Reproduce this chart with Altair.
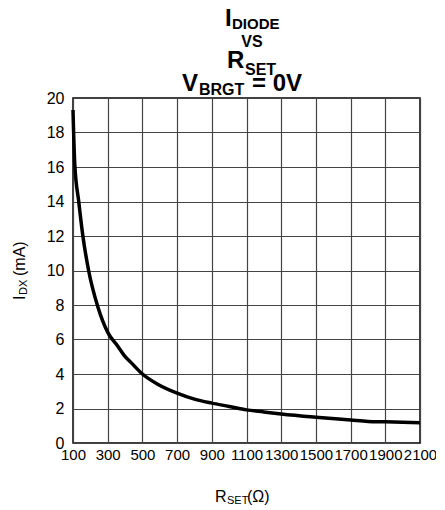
import altair as alt
import pandas as pd

# Data
r_set = [100, 110, 133, 157, 190, 243, 301, 359, 397, 435, 500, 588, 700, 800,
         900, 1000, 1100, 1200, 1300, 1500, 1700, 1800, 1900, 2100]
i_diode = [19.3, 16.2, 14.0, 12.0, 10.0, 7.9, 6.4, 5.6, 5.05, 4.66, 4.0, 3.41,
           2.89, 2.54, 2.31, 2.12, 1.92, 1.8, 1.68, 1.49, 1.33, 1.25, 1.23, 1.18]
x_ticks = list(range(100, 2101, 200))
y_ticks = list(range(0, 21, 2))

df = pd.DataFrame({"R": r_set, "I": i_diode})

W, H = 347, 345
FONT = "Liberation Sans"
GRID = "#444444"

line = alt.Chart(df).mark_line(color="black", strokeWidth=3.5, interpolate="monotone").encode(
    x=alt.X("R:Q", scale=alt.Scale(domain=[100, 2100], nice=False, zero=False),
            axis=alt.Axis(values=x_ticks, format="d", title=None, grid=True, gridColor=GRID,
                          gridWidth=1.2, gridOpacity=1, tickSize=0, labelFontSize=15,
                          labelPadding=4, labelColor="black", domain=False, labelFont=FONT,
                          labelOverlap=False, labelFlush=False)),
    y=alt.Y("I:Q", scale=alt.Scale(domain=[0, 20], nice=False),
            axis=alt.Axis(values=y_ticks, title=None, grid=True, gridColor=GRID, gridWidth=1.2,
                          gridOpacity=1, tickSize=0, labelFontSize=16, labelPadding=9,
                          labelColor="black", domain=False, labelFont=FONT)),
)


def txt(s, x, y, size, weight="bold", angle=0, align="left"):
    return alt.Chart(alt.Data(values=[{}])).mark_text(
        text=s, font=FONT, fontSize=size, fontWeight=weight, angle=angle,
        align=align, baseline="alphabetic", color="black"
    ).encode(x=alt.value(x), y=alt.value(y))


texts = [
    # title
    txt("I", 152, -72, 24),
    txt("DIODE", 159, -69, 15),
    txt("VS", 179, -51, 16, align="center"),
    txt("R", 154, -30, 24),
    txt("SET", 172, -23, 16),
    txt("V", 109, -7, 24),
    txt("BRGT", 126, -3, 16),
    txt("= 0V", 179, -7, 24),
    # x title
    txt("R", 142, 404, 16, weight="normal"),
    txt("SET", 154, 406, 11, weight="normal"),
    txt("(\u03a9)", 174, 404, 16, weight="normal"),
    # y title
    txt("I", -48, 202, 16, weight="normal", angle=270),
    txt("DX", -46, 197, 11, weight="normal", angle=270),
    txt("(mA)", -48, 178, 16, weight="normal", angle=270),
]

chart = alt.layer(line, *texts).properties(
    width=W, height=H,
    autosize=alt.AutoSizeParams(type="none"),
    padding={"left": 65, "top": 90, "right": 16, "bottom": 66},
).configure_view(stroke="black", strokeWidth=1.5)

chart.save("out.html", embed_options={"renderer": "svg", "actions": False})
